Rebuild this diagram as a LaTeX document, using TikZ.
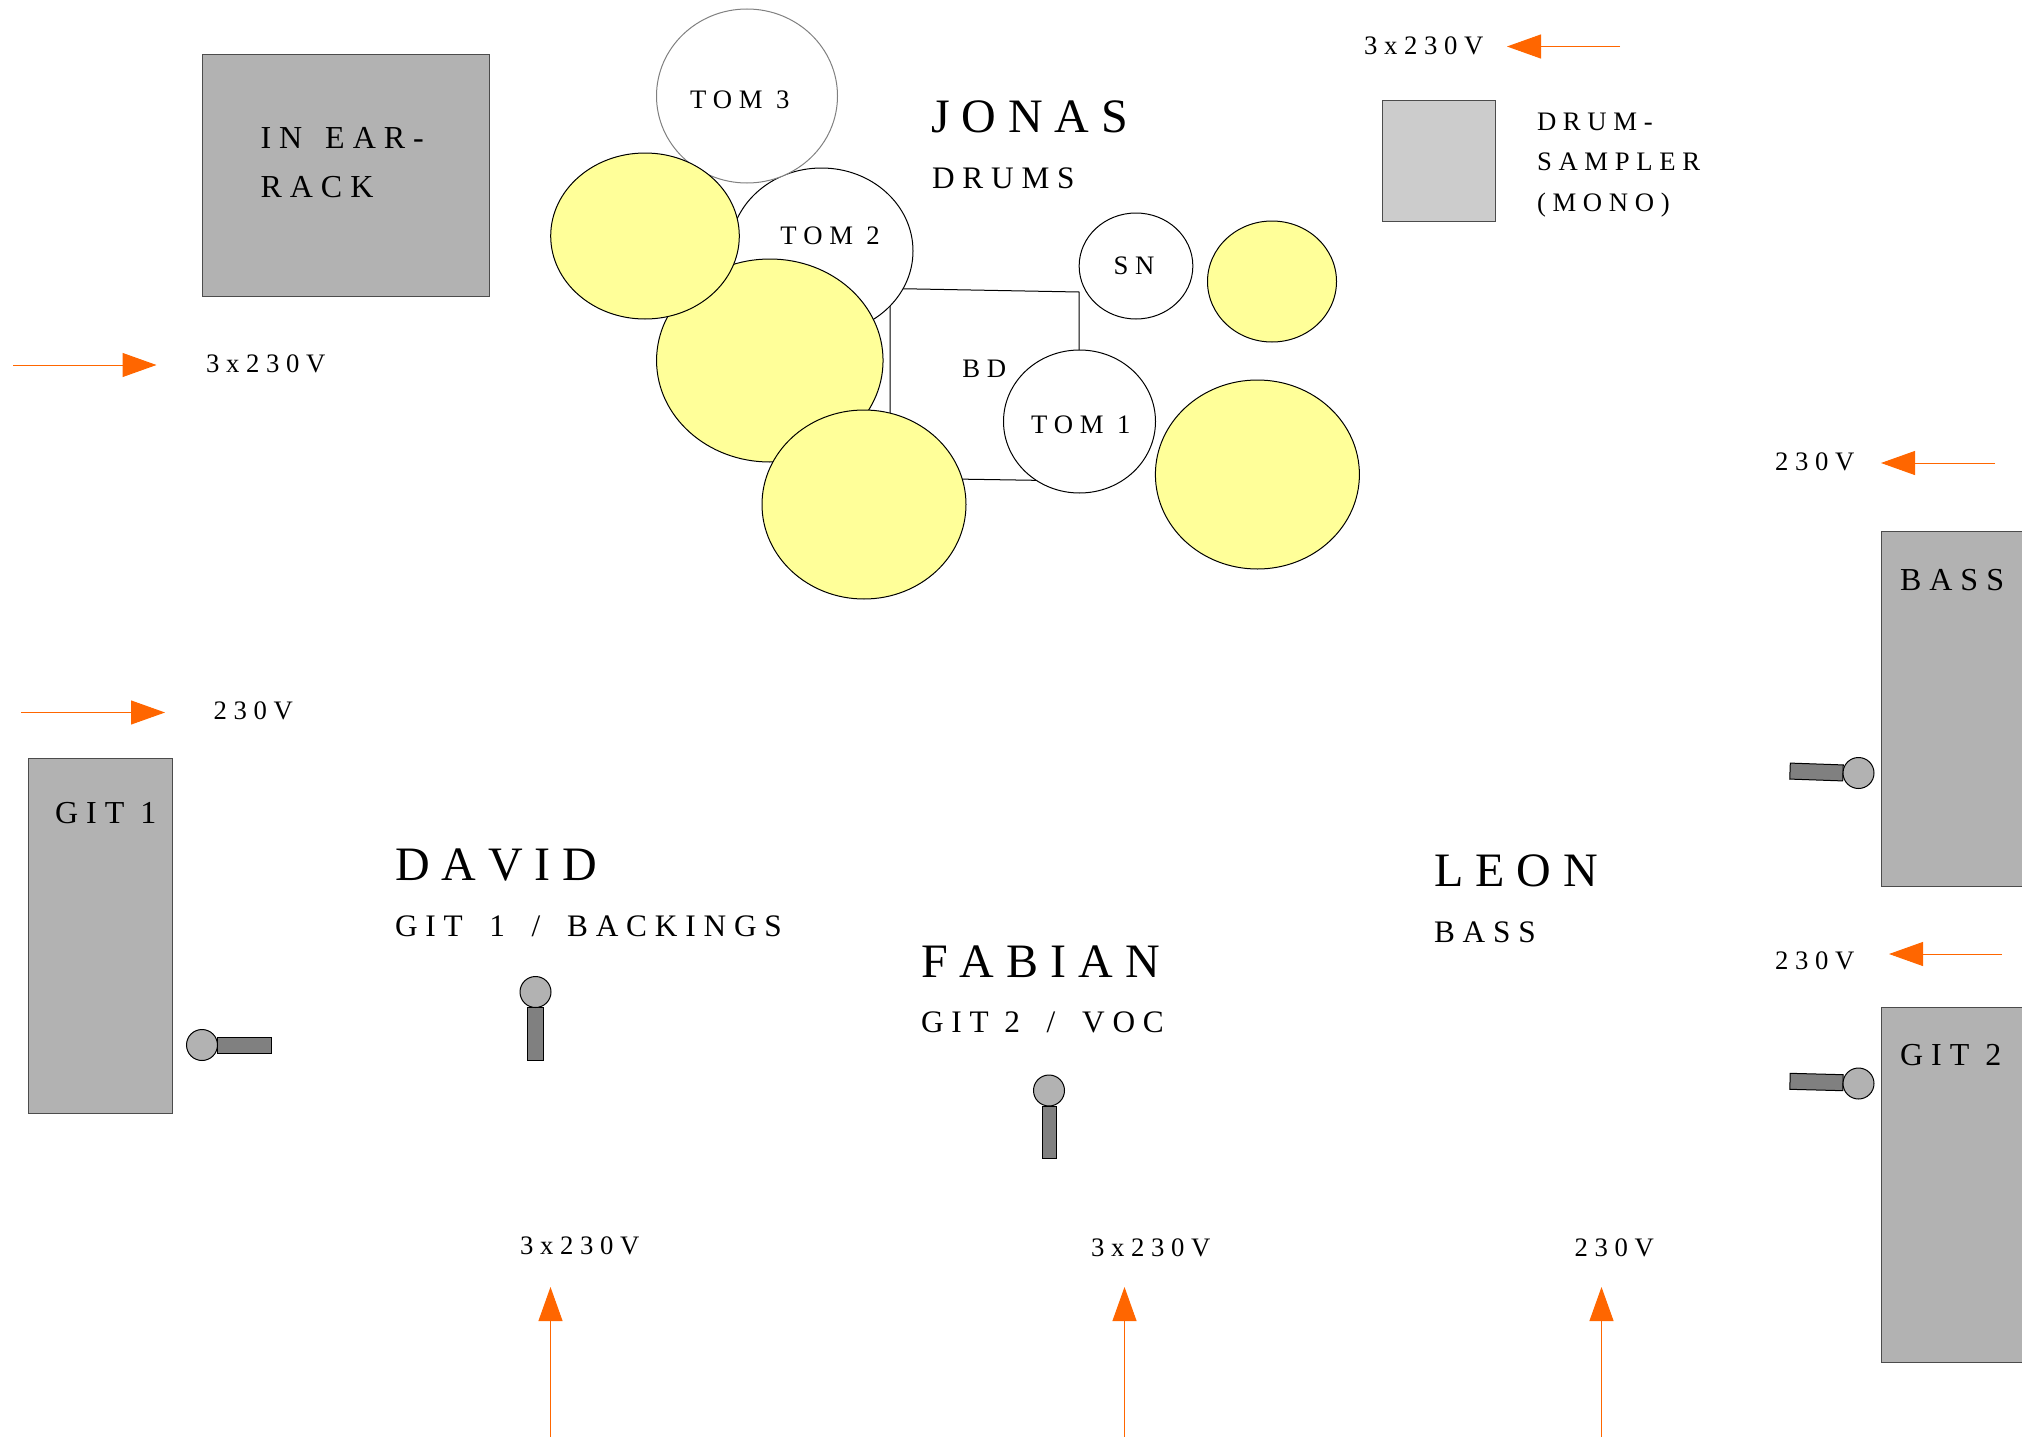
\documentclass[tikz,border=0pt]{standalone}
\usepackage{fontspec}
\setmainfont{Liberation Serif}
\newfontfamily\stagefont[LetterSpace=25,Kerning=Off]{Liberation Serif}
\usetikzlibrary{arrows.meta,shapes.geometric}
\definecolor{feedorange}{HTML}{FF6600}
\definecolor{cymbalyellow}{HTML}{FFFF99}
\definecolor{ampgrey}{HTML}{B2B2B2}
\definecolor{samplergrey}{HTML}{CCCCCC}
\definecolor{micgrey}{HTML}{808080}
\newcommand{\wgap}{\hspace{11pt}}
\tikzset{
    drum/.style =   {ellipse,
                    fill=white,
                    draw=black,
                    line width=1pt,
                    inner sep=0pt},
    cymbal/.style = {drum,
                    fill=cymbalyellow},
    amp/.style =    {rectangle,
                    fill=ampgrey,
                    draw=black!70,
                    line width=1pt,
                    inner sep=0pt},
    michead/.style ={ellipse,
                    fill=ampgrey,
                    draw=black,
                    line width=1pt,
                    inner sep=0pt,
                    minimum width=31pt,
                    minimum height=31pt},
    micbody/.style ={rectangle,
                    fill=micgrey,
                    draw=black,
                    line width=1pt,
                    inner sep=0pt},
    txtlabel/.style = {anchor=base west,
                    inner sep=0pt,
                    outer sep=0pt,
                    text=black},
    wholabel/.style = {txtlabel,
                    font=\stagefont\fontsize{48}{48}\selectfont},
    rolelabel/.style = {txtlabel,
                    font=\stagefont\fontsize{31.3}{33}\selectfont},
    partlabel/.style = {txtlabel,
                    font=\stagefont\fontsize{26.7}{27}\selectfont},
    amplabel/.style = {txtlabel,
                    align=left,
                    font=\stagefont\fontsize{32}{49}\selectfont},
    powerlabel/.style = {txtlabel,
                    font=\stagefont\fontsize{26.7}{26}\selectfont},
    feed/.style =   {draw=feedorange,
                    line width=1pt,
                    -{Triangle[length=34pt,width=24pt,fill=feedorange]}}
}
\begin{document}
\begin{tikzpicture}[x=1pt,y=-1pt]
    \useasboundingbox (0,0) rectangle (2022,1437);

    % bass drum outline goes first
    \coordinate (BDa) at (890,288.5);
    \coordinate (BDb) at (1079,292);
    \coordinate (BDc) at (1079,481);
    \coordinate (BDd) at (890,478);
    \draw [line width=1pt] (BDa) -- (BDb) -- (BDc) -- (BDd) -- cycle;

    % kit
    \node[drum, minimum width=183pt, minimum height=166pt] (TOMb) at (821.5,251) {};
    \node[drum, draw=black!50, minimum width=181pt, minimum height=174pt] (TOMc) at (747,96) {};
    \node[cymbal, minimum width=226.5pt, minimum height=203pt] (CYb) at (769.8,360.5) {};
    \node[cymbal, minimum width=188.6pt, minimum height=166pt] (CYa) at (645,236) {};
    \node[cymbal, minimum width=204pt, minimum height=189pt] (CYc) at (864,504.5) {};
    \node[drum, minimum width=152pt, minimum height=143pt] (TOMa) at (1079.5,421.5) {};
    \node[drum, minimum width=113.7pt, minimum height=106pt] (SN) at (1136,266) {};
    \node[cymbal, minimum width=129pt, minimum height=121pt] (CYd) at (1272,281.5) {};
    \node[cymbal, minimum width=204pt, minimum height=189pt] (CYe) at (1257.4,474.5) {};

    \node[partlabel] (tTOMc) at (690,108) {TOM 3};
    \node[partlabel] (tTOMb) at (780.4,244) {TOM 2};
    \node[partlabel] (tTOMa) at (1031,433) {TOM 1};
    \node[partlabel] (tBD) at (962.4,377.5) {BD};
    \node[partlabel] (tSN) at (1113.7,274) {SN};

    % racks and amps
    \node[amp, minimum width=287.5pt, minimum height=242pt] (RACK) at (346,175.5) {};
    \node[amp, fill=samplergrey, minimum width=113.5pt, minimum height=121.5pt] (SAMPLER) at (1439,161) {};
    \node[amp, minimum width=143.5pt, minimum height=355pt] (GITa) at (100.25,935.5) {};
    \node[amp, minimum width=150pt, minimum height=355.5pt] (BASS) at (1956,708.75) {};
    \node[amp, minimum width=150pt, minimum height=354.5pt] (GITb) at (1956,1184.75) {};

    \node[amplabel] (tRACK) at (260.5,197) {IN \hspace{7pt}EAR-\\RACK};
    \node[powerlabel, align=left, font=\stagefont\fontsize{26.7}{40.5}\selectfont] (tSAMPLER) at (1537,211) {DRUM-\\SAMPLER\\(MONO)};
    \node[amplabel] (tGITa) at (55,823) {GIT 1};
    \node[amplabel] (tBASS) at (1900,590) {BASS};
    \node[amplabel] (tGITb) at (1900,1065) {GIT 2};

    % mics
    \node[micbody, minimum width=54pt, minimum height=16pt] (BODYa) at (244,1045) {};
    \node[michead] (HEADa) at (202,1045) {};
    \node[micbody, minimum width=16pt, minimum height=53pt] (BODYb) at (535,1033.5) {};
    \node[michead] (HEADb) at (535.5,992) {};
    \node[micbody, minimum width=14pt, minimum height=52pt] (BODYc) at (1049,1132) {};
    \node[michead] (HEADc) at (1049,1090.5) {};
    \node[micbody, minimum width=53pt, minimum height=16pt, rotate=-2] (BODYd) at (1816.5,772) {};
    \node[michead] (HEADd) at (1858.5,773) {};
    \node[micbody, minimum width=53pt, minimum height=16pt, rotate=-1.5] (BODYe) at (1816.5,1082) {};
    \node[michead] (HEADe) at (1858.5,1083.5) {};

    % who stands where
    \node[wholabel] (JONAS) at (931,132.5) {JONAS};
    \node[rolelabel] (DRUMS) at (932,188) {DRUMS};
    \node[wholabel] (DAVID) at (395,880) {DAVID};
    \node[rolelabel] (GITBACK) at (395,936) {GIT \wgap 1 \wgap / \wgap BACKINGS};
    \node[wholabel] (FABIAN) at (921,977.5) {FABIAN};
    \node[rolelabel] (GITVOC) at (921,1032) {GIT 2 \wgap / \wgap VOC};
    \node[wholabel] (LEON) at (1434,886) {LEON};
    \node[rolelabel] (tLEON) at (1434,942) {BASS};

    % power
    \node[powerlabel] (Pa) at (1364,55) {3x230V};
    \node[powerlabel] (Pb) at (206,372) {3x230V};
    \node[powerlabel] (Pc) at (213.5,719) {230V};
    \node[powerlabel] (Pd) at (1775,470.5) {230V};
    \node[powerlabel] (Pe) at (1775,969) {230V};
    \node[powerlabel] (Pf) at (520,1254) {3x230V};
    \node[powerlabel] (Pg) at (1091,1256) {3x230V};
    \node[powerlabel] (Ph) at (1574.5,1256) {230V};

    \coordinate (Fa1) at (1620,46.5);   \coordinate (Fa2) at (1507,46.5);
    \coordinate (Fb1) at (13,365);    \coordinate (Fb2) at (156.5,365);
    \coordinate (Fc1) at (21,712.5);    \coordinate (Fc2) at (165,712.5);
    \coordinate (Fd1) at (1995,463);  \coordinate (Fd2) at (1881,463);
    \coordinate (Fe1) at (2002,954);  \coordinate (Fe2) at (1889,954);
    \coordinate (Ff1) at (550.5,1437); \coordinate (Ff2) at (550.5,1287);
    \coordinate (Fg1) at (1124.5,1437); \coordinate (Fg2) at (1124.5,1287);
    \coordinate (Fh1) at (1601.5,1437); \coordinate (Fh2) at (1601.5,1287);

    \path [feed] (Fa1) edge (Fa2)
                 (Fb1) edge (Fb2)
                 (Fc1) edge (Fc2)
                 (Fd1) edge (Fd2)
                 (Fe1) edge (Fe2)
                 (Ff1) edge (Ff2)
                 (Fg1) edge (Fg2)
                 (Fh1) edge (Fh2);
\end{tikzpicture}
\end{document}
